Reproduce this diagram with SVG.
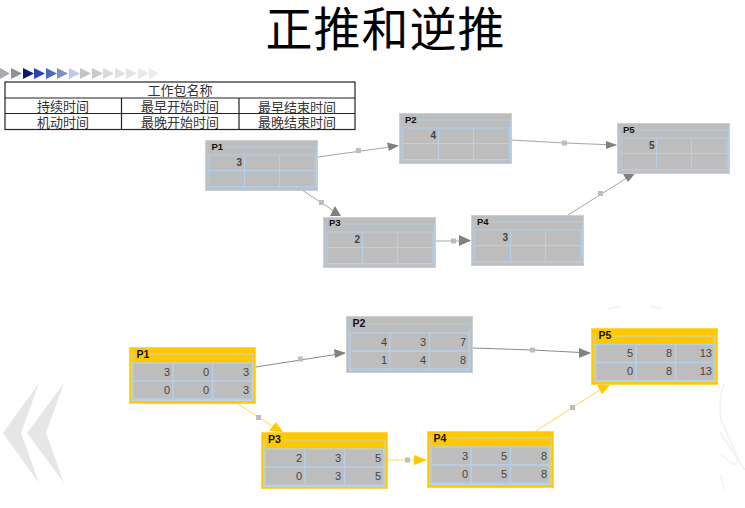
<svg xmlns="http://www.w3.org/2000/svg" width="745" height="508" viewBox="0 0 745 508">
<style>
text{font-family:"Liberation Sans",Arial,sans-serif}
.cn{font-family:"Noto Sans CJK SC",sans-serif;font-size:13px;fill:#333;text-anchor:middle}
.title{font-family:"Noto Sans CJK SC",sans-serif;font-size:47px;letter-spacing:1px;fill:#000;text-anchor:middle}
.bg{fill:#bdbdbd;stroke:#cfcfcf}
.bgg{fill:#ffc800;stroke:#ffd54a}
.f{fill:none;stroke:#b4cbe0;stroke-width:1}
.fg{fill:none;stroke:#c4d4dc;stroke-width:1}
.c{fill:#bdbdbd;stroke:#b4d0ea;stroke-width:1}
.cb{fill:#bdbdbd;stroke:#b4d0ea;stroke-width:1.4}
.t{font-weight:bold;font-size:9.500px;fill:#111}
.tl{font-weight:bold;font-size:10.500px;fill:#111}
.n{font-size:10px;font-weight:bold;text-anchor:end;fill:#444}
.nb{font-size:11px;text-anchor:end;fill:#444}
.tb{fill:#fff;stroke:#222;stroke-width:1.2}
.g{fill:none;stroke:#a6a6a6;stroke-width:1}
.gd{fill:none;stroke:#8c8c8c;stroke-width:1}
.y{fill:none;stroke:#ffd64f;stroke-width:1}
.hg{fill:#808080}.hy{fill:#ffc800}
.sq{fill:#bdbdbd}
.faint{fill:none;stroke:#f1f1f1;stroke-width:1.500}
</style>
<rect width="745" height="508" fill="#fff"/>
<g id="backdrop">
<polygon points="39,383 3,433 39,483 21,433" fill="#e6e6e6"/>
<polygon points="64,383 27,433 64,483 46,433" fill="#e6e6e6"/>
<path class="faint" d="M724 384Q718 400 721 420L738 458L735 465L720 455M721 474Q722 484 725 490M720 432L745 470M608 309L620 306M650 306L662 309"/>
<g id="ribbon">
<polygon points="0,68 10,73.500 0,79" fill="#a9a9b4"/>
<polygon points="11,68 22,73.500 11,79" fill="#8f8f9c"/>
<polygon points="23,68 34,73.500 23,79" fill="#0d1a6e"/>
<polygon points="34,68 45,73.500 34,79" fill="#2a44ac"/>
<polygon points="46,68 57,73.500 46,79" fill="#5068bc"/>
<polygon points="57,68 68,73.500 57,79" fill="#7f8fc4"/>
<polygon points="69,68 80,73.500 69,79" fill="#c0cae8"/>
<polygon points="80,68 91,73.500 80,79" fill="#c4c4c4"/>
<polygon points="92,68 103,73.500 92,79" fill="#cacaca"/>
<polygon points="103,68 114,73.500 103,79" fill="#dadada"/>
<polygon points="115,68 126,73.500 115,79" fill="#e0e0e0"/>
<polygon points="126,68 137,73.500 126,79" fill="#e4e4e4"/>
<polygon points="138,68 149,73.500 138,79" fill="#e8e8e8"/>
<polygon points="149,68 159,73.500 149,79" fill="#ececec"/>
</g>
</g>
<text class="title" x="385.500" y="46">正推和逆推</text>
<g id="legend">
<rect class="tb" x="5" y="82" width="350" height="47.500"/>
<path d="M5 98H355M5 113.500H355M121.500 98V129.500M239 98V129.500" fill="none" stroke="#222" stroke-width="1.2"/>
<text class="cn" x="180" y="95">工作包名称</text>
<text class="cn" x="63" y="111">持续时间</text>
<text class="cn" x="180" y="111">最早开始时间</text>
<text class="cn" x="297" y="112">最早结束时间</text>
<text class="cn" x="63" y="126.500">机动时间</text>
<text class="cn" x="180" y="126.500">最晚开始时间</text>
<text class="cn" x="297" y="126.500">最晚结束时间</text>
</g>
<g id="connectors">
<path class="g" d="M318 157L397 146M511 140L565 143L616 145M302 190L340 215M436 241L470 241M568 215L630 176"/>
<path class="gd" d="M256 367L345 353M473 348L533 350L590 353"/>
<path class="y" d="M238 404L282 432M388 460L426 460M536 431L606 386"/>
<polygon class="hg" points="399,145.500 387,142.500 389,151"/><polygon class="hg" points="617,145 606,141 606,149"/><polygon class="hg" points="341,216 330,216 335,206"/><polygon class="hg" points="471,240.500 459,235 459,246"/><polygon class="hg" points="635,173.500 623,174 628,182"/>
<polygon class="hg" points="346,353 334,349 335,358"/><polygon class="hg" points="591,353 579,348 579,358"/>
<polygon class="hy" points="283,432 269,431 276,422"/><polygon class="hy" points="427,460 414,455 414,465"/><polygon class="hy" points="610,385 597,385 602,394"/>
<path class="sq" d="M356 148h5v5h-5zM562 140.500h5v5h-5zM319 200h5v5h-5zM451 238.500h5v5h-5zM598 191h5v5h-5zM298 356.500h5v5h-5zM530 347.500h5v5h-5zM256 415h5v5h-5zM405 457.500h5v5h-5zM570 405h5v5h-5z"/>
</g>
<g id="P1"><rect class="bg" x="205.500" y="140.500" width="112" height="50"/><path class="f" d="M224 147H316.500V188H207V147H209"/><rect class="c" x="209" y="155" width="106" height="31.500"/><path class="c" d="M244.500 155V186.500M279.500 155V186.500M209 170.500H315"/><text class="t" x="211.500" y="150">P1</text><text class="n" x="242" y="166">3</text></g>
<g id="P2"><rect class="bg" x="399.500" y="113.500" width="112" height="50"/><path class="f" d="M418 120H510.500V161H401V120H403"/><rect class="c" x="403" y="128" width="106" height="31.500"/><path class="c" d="M438.500 128V159.500M473.500 128V159.500M403 143.500H509"/><text class="t" x="405" y="123">P2</text><text class="n" x="436" y="138.500">4</text></g>
<g id="P3"><rect class="bg" x="323.500" y="217.500" width="112" height="50"/><path class="f" d="M342 224H434.500V265H325V224H327"/><rect class="c" x="327" y="232" width="106" height="31.500"/><path class="c" d="M362.500 232V263.500M397.500 232V263.500M327 247.500H433"/><text class="t" x="329" y="226">P3</text><text class="n" x="360" y="243">2</text></g>
<g id="P4"><rect class="bg" x="471.500" y="215.500" width="112" height="50"/><path class="f" d="M490 222H582.500V263H473V222H475"/><rect class="c" x="475" y="230" width="106" height="31.500"/><path class="c" d="M510.500 230V261.500M545.500 230V261.500M475 245.500H581"/><text class="t" x="477" y="225">P4</text><text class="n" x="508" y="241">3</text></g>
<g id="P5"><rect class="bg" x="617.500" y="123.500" width="112" height="50"/><path class="f" d="M636 130H728.500V171H619V130H621"/><rect class="c" x="621" y="138" width="106" height="31.500"/><path class="c" d="M656.500 138V169.500M691.500 138V169.500M621 153.500H727"/><text class="t" x="623" y="133">P5</text><text class="n" x="654.500" y="149">5</text></g>
<g id="P1b"><rect class="bgg" x="129.500" y="347.500" width="126" height="56"/><path class="fg" d="M150 354H253V400.500H132V354H135"/><rect class="cb" x="133" y="363" width="119" height="36"/><path class="cb" d="M173 363V399M212.500 363V399M133 381H252"/><text class="tl" x="136.500" y="358">P1</text><text class="nb" x="170" y="376">3</text><text class="nb" x="209" y="376">0</text><text class="nb" x="249" y="376">3</text><text class="nb" x="170" y="394">0</text><text class="nb" x="209" y="394">0</text><text class="nb" x="249" y="394">3</text></g>
<g id="P2b"><rect class="bg" x="346.500" y="316.500" width="126" height="56"/><path class="f" d="M367 324H470V370.500H349V324H352"/><rect class="cb" x="350" y="333" width="119" height="36"/><path class="cb" d="M390 333V369M429.500 333V369M350 351H469"/><text class="tl" x="352.500" y="327">P2</text><text class="nb" x="387" y="346">4</text><text class="nb" x="426" y="346">3</text><text class="nb" x="466" y="346">7</text><text class="nb" x="387" y="364">1</text><text class="nb" x="426" y="364">4</text><text class="nb" x="466" y="364">8</text></g>
<g id="P3b"><rect class="bgg" x="261.500" y="432.500" width="126" height="56"/><path class="fg" d="M283 440H385V486.500H264V440H267"/><rect class="cb" x="265" y="449" width="119" height="36"/><path class="cb" d="M305 449V485M344.500 449V485M265 467H384"/><text class="tl" x="268" y="443">P3</text><text class="nb" x="302" y="462">2</text><text class="nb" x="341" y="462">3</text><text class="nb" x="381" y="462">5</text><text class="nb" x="302" y="480">0</text><text class="nb" x="341" y="480">3</text><text class="nb" x="381" y="480">5</text></g>
<g id="P4b"><rect class="bgg" x="427.500" y="431.500" width="126" height="56"/><path class="fg" d="M449 438H551V484.500H430V438H433"/><rect class="cb" x="431" y="447" width="118" height="36"/><path class="cb" d="M471 447V483M510.500 447V483M431 465H549"/><text class="tl" x="433.500" y="441.500">P4</text><text class="nb" x="468" y="460">3</text><text class="nb" x="507" y="460">5</text><text class="nb" x="547" y="460">8</text><text class="nb" x="468" y="478">0</text><text class="nb" x="507" y="478">5</text><text class="nb" x="547" y="478">8</text></g>
<g id="P5b"><rect class="bgg" x="591.500" y="328.500" width="126" height="56"/><path class="fg" d="M613 336H715V381.500H594V336H597"/><rect class="cb" x="596" y="344.500" width="118" height="36"/><path class="cb" d="M636 344.500V380.500M675.500 344.500V380.500M596 362.500H714"/><text class="tl" x="598.500" y="339">P5</text><text class="nb" x="633" y="357">5</text><text class="nb" x="672" y="357">8</text><text class="nb" x="712" y="357">13</text><text class="nb" x="633" y="375">0</text><text class="nb" x="672" y="375">8</text><text class="nb" x="712" y="375">13</text></g>
</svg>
